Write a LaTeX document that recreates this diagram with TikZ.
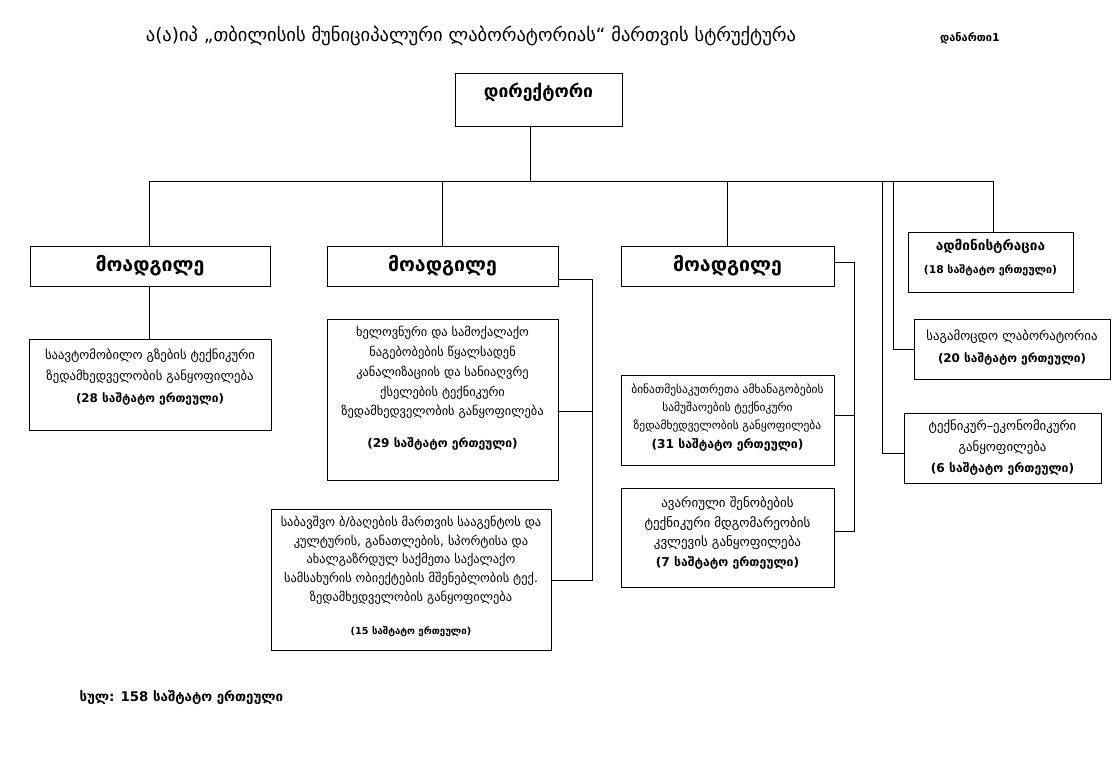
\documentclass[tikz,border=0pt]{standalone}
\usepackage{fontspec}
\setmainfont{DejaVu Sans}
\usetikzlibrary{positioning}
\usetikzlibrary{calc}
\usetikzlibrary{math}

\tikzset{
  unit/.style={draw, line width=0.8pt, align=center, inner sep=2pt,
    font=\fontsize{12}{20}\selectfont},
  deputy/.style={unit, minimum height=40pt, font=\fontsize{19.5}{22}\selectfont\bfseries},
  wire/.style={line width=0.6pt},
}

\begin{document}
\begin{tikzpicture}[x=1pt,y=-1pt]

  \tikzmath{
    \busy    = 181; % height of the main bus
    \spineb  = 592; % vertical line of the second deputy
    \spinec  = 854; % vertical line of the third deputy
    \labx    = 893; % tap for the laboratory
    \techx   = 882; % tap for the technical-economic unit
  }

  \useasboundingbox (0,0) rectangle (1116,780);

  % title
  \node (title) at (471,36) {\fontsize{18.5}{20}\selectfont ა(ა)იპ „თბილისის მუნიციპალური ლაბორატორიას“ მართვის სტრუქტურა};
  \node[font=\fontsize{11}{13}\selectfont\bfseries] (annex) at (970,38) {დანართი1};

  % director
  \node[unit, minimum width=167pt, minimum height=53pt, text depth=19pt,
    font=\fontsize{17.5}{20}\selectfont\bfseries] (dir) at (538.5,99.5) {დირექტორი};

  % deputies
  \node[deputy, minimum width=240pt] (depA) at (150,266) {მოადგილე};
  \node[deputy, minimum width=231pt] (depB) at (442.5,266) {მოადგილე};
  \node[deputy, minimum width=213pt] (depC) at (727.5,266) {მოადგილე};

  % units
  \node[unit, minimum width=242pt, minimum height=91pt, text depth=18pt,
    font=\fontsize{12.7}{21.5}\selectfont] (roads) at (150,384.5)
    {საავტომობილო გზების ტექნიკური\\ზედამხედველობის განყოფილება\\{\bfseries\fontsize{11.9}{13}\selectfont (28 საშტატო ერთეული)}};
  \node[unit, minimum width=231pt, minimum height=161pt, text depth=25pt,
    font=\fontsize{12.4}{19.8}\selectfont] (water) at (442.5,399.5)
    {ხელოვნური და სამოქალაქო\\ნაგებობების წყალსადენ\\კანალიზაციის და სანიაღვრე\\ქსელების ტექნიკური\\ზედამხედველობის განყოფილება\\[12pt]{\bfseries\fontsize{12.1}{13}\selectfont (29 საშტატო ერთეული)}};
  \node[unit, minimum width=280pt, minimum height=141pt, text depth=9pt,
    font=\fontsize{12.4}{18.75}\selectfont] (kinder) at (411,579.5)
    {საბავშვო ბ/ბაღების მართვის სააგენტოს და\\კულტურის, განათლების, სპორტისა და\\ახალგაზრდულ საქმეთა საქალაქო\\სამსახურის ობიექტების მშენებლობის ტექ.\\ზედამხედველობის განყოფილება\\[14pt]{\bfseries\fontsize{9.7}{11}\selectfont (15 საშტატო ერთეული)}};
  \node[unit, minimum width=213pt, minimum height=90pt, text depth=8pt,
    font=\fontsize{11.5}{18.3}\selectfont] (flats) at (727.5,420)
    {ბინათმესაკუთრეთა ამხანაგობების\\სამუშაოების  ტექნიკური\\ზედამხედველობის განყოფილება\\{\bfseries\fontsize{12.2}{14}\selectfont (31 საშტატო ერთეული)}};
  \node[unit, minimum width=213pt, minimum height=99pt, text depth=12pt,
    font=\fontsize{13}{19.7}\selectfont] (ruin) at (727.5,537.5)
    {ავარიული შენობების\\ტექნიკური მდგომარეობის\\კვლევის განყოფილება\\{\bfseries\fontsize{12.2}{13}\selectfont (7 საშტატო  ერთეული)}};
  \node[unit, minimum width=165pt, minimum height=60pt, text depth=12pt,
    font=\fontsize{10}{23}\selectfont] (admin) at (990.5,262)
    {{\bfseries\fontsize{13.6}{15}\selectfont ადმინისტრაცია}\\{\fontsize{10.7}{12}\selectfont\bfseries (18 საშტატო ერთეული)}};
  \node[unit, minimum width=196pt, minimum height=60pt, text depth=6pt,
    font=\fontsize{12.8}{22.5}\selectfont] (lab) at (1012,349)
    {საგამოცდო ლაბორატორია\\{\bfseries\fontsize{11.9}{13}\selectfont (20  საშტატო ერთეული)}};
  \node[unit, minimum width=197pt, minimum height=70pt,
    font=\fontsize{12.8}{21}\selectfont] (tech) at (1002.5,448)
    {ტექნიკურ–ეკონომიკური\\განყოფილება\\{\bfseries\fontsize{12.2}{13}\selectfont (6  საშტატო  ერთეული)}};

  % total
  \node[font=\fontsize{13.3}{15}\selectfont\bfseries, anchor=west] (total) at (76,698) {სულ: 158  საშტატო ერთეული};

  % main bus
  \coordinate (busL) at (149,\busy);
  \coordinate (busR) at (993,\busy);
  \coordinate (dirtap) at (530,\busy);
  \draw[wire] (busL) -- (busR);
  \draw[wire] (dir.south -| dirtap) -- (dirtap);
  \draw[wire] (busL) -- (busL |- depA.north);
  \draw[wire] (depB.north |- busL) -- (depB.north);
  \draw[wire] (depC.north |- busL) -- (depC.north);
  \draw[wire] (busR) -- (busR |- admin.north);
  \coordinate (labtap) at (\labx,\busy);
  \coordinate (techtap) at (\techx,\busy);
  \coordinate (techend) at (\techx,453);
  \draw[wire] (labtap) |- (lab.west);
  \draw[wire] (techtap) -- (techend) -- (tech.west |- techend);

  % first deputy
  \draw[wire] (depA.south -| busL) -- (roads.north -| busL);

  % second deputy
  \coordinate (bTop) at (\spineb,279);
  \coordinate (bMid) at (\spineb,411);
  \coordinate (bLow) at (\spineb,580);
  \draw[wire] (depB.east |- bTop) -- (bTop) -- (bLow) -- (kinder.east |- bLow);
  \draw[wire] (bMid) -- (water.east |- bMid);

  % third deputy
  \coordinate (cTop) at (\spinec,262);
  \coordinate (cMid) at (\spinec,415);
  \coordinate (cLow) at (\spinec,531);
  \draw[wire] (depC.east |- cTop) -- (cTop) -- (cLow) -- (ruin.east |- cLow);
  \draw[wire] (cMid) -- (flats.east |- cMid);

\end{tikzpicture}
\end{document}
